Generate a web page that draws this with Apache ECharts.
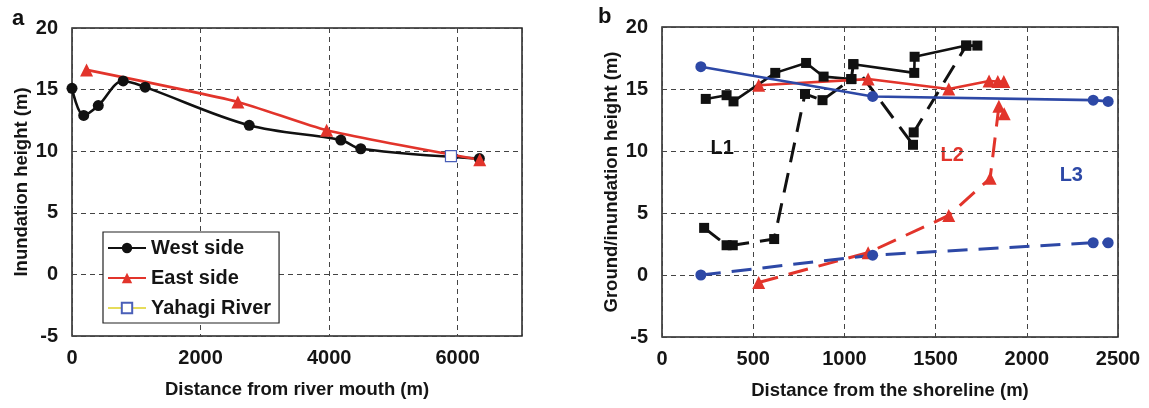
<!DOCTYPE html>
<html>
<head>
<meta charset="utf-8">
<script src="https://cdn.jsdelivr.net/npm/echarts@6.0.0/dist/echarts.min.js"></script>
<style>
html,body{margin:0;padding:0;background:#fff;}
#c{width:1149px;height:408px;}
</style>
</head>
<body>
<div id="c"></div>
<script>
// ---- Panel a data ----
const westSide = [[0,15.1],[182,12.9],[409,13.7],[796,15.7],[1138,15.2],[2757,12.1],[4182,10.9],[4492,10.2],[6337,9.4]];
const eastSide = [[227,16.6],[2580,14.0],[3961,11.7],[6343,9.3]];
const yahagiRiver = [[5895,9.6]];

// ---- Panel b data ----
const L1InundA = [[240,14.2],[354,14.5],[392,14.0],[621,16.3],[790,17.1],[886,16.0],[1038,15.8]];
const L1InundB = [[1049,17.0],[1383,16.3],[1385,17.6],[1668,18.5],[1729,18.5]];
const L1Ground = [[231,3.8],[354,2.4],[388,2.4],[615,2.9],[784,14.6],[880,14.1],[1038,15.8],[1049,17.0],[1376,10.5],[1380,11.5],[1668,18.5]];
const L2Inund = [[530,15.3],[1130,15.8],[1572,15.0],[1793,15.65],[1841,15.6],[1874,15.6]];
const L2Ground = [[530,-0.6],[1130,1.8],[1572,4.8],[1799,7.8],[1847,13.6],[1876,13.0]];
const L3Inund = [[213,16.8],[1155,14.4],[2364,14.1],[2446,14.0]];
const L3Ground = [[213,0.0],[1155,1.6],[2364,2.6],[2446,2.6]];
const lineLabels = [
  {text:'L1', at:[330,10.2], color:'#111'},
  {text:'L2', at:[1591,9.65], color:'#e2342b'},
  {text:'L3', at:[2244,8.0], color:'#2d48a6'}
];

const FONT = '"Liberation Sans", Arial, sans-serif';
const BLACK = '#111', RED = '#e2342b', BLUE = '#2d48a6';
const TXT = '#151515';

const chart = echarts.init(document.getElementById('c'), null, {renderer:'canvas'});

function xAxisCfg(grid, min, max, interval, name, showMax){
  return {
    gridIndex:grid, type:'value', min:min, max:max, interval:interval,
    name:name, nameLocation:'middle', nameGap:44,
    nameTextStyle:{fontFamily:FONT, fontWeight:'bold', fontSize:18.5, color:TXT},
    axisLine:{show:false}, axisTick:{show:false},
    axisLabel:{showMaxLabel:showMax, margin:12, fontFamily:FONT, fontWeight:'bold', fontSize:20, color:TXT,
      formatter:function(v){return String(v);}},
    splitLine:{show:true, lineStyle:{type:[5,4], color:'#444', width:1}}
  };
}
function yAxisCfg(grid, name, gap){
  return {
    gridIndex:grid, type:'value', min:-5, max:20, interval:5,
    name:name, nameLocation:'middle', nameGap:gap, nameRotate:90,
    nameTextStyle:{fontFamily:FONT, fontWeight:'bold', fontSize:18.5, color:TXT},
    axisLine:{show:false}, axisTick:{show:false},
    axisLabel:{margin:14, fontFamily:FONT, fontWeight:'bold', fontSize:20, color:TXT,
      formatter:function(v){return String(v);}},
    splitLine:{show:true, lineStyle:{type:[5,4], color:'#444', width:1}}
  };
}
function solid(name, data, color, symbol, size, xi, smooth){
  return {name:name, type:'line', xAxisIndex:xi, yAxisIndex:xi, data:data, smooth:smooth||false,
    symbol:symbol, symbolSize:size, showSymbol:true,
    lineStyle:{color:color, width:2.6}, itemStyle:{color:color}};
}
function dashed(name, data, color, symbol, size){
  return {name:name, type:'line', xAxisIndex:1, yAxisIndex:1, data:data,
    symbol:symbol, symbolSize:size,
    lineStyle:{color:color, width:3, type:[20,11]}, itemStyle:{color:color}};
}

const option = {
  animation:false,
  backgroundColor:'#fff',
  grid:[
    {left:72, right:627, top:28, bottom:72, show:true, borderColor:'#222', borderWidth:1.5, backgroundColor:'transparent'},
    {left:662, right:31, top:27, bottom:71, show:true, borderColor:'#222', borderWidth:1.5, backgroundColor:'transparent'}
  ],
  xAxis:[
    xAxisCfg(0, 0, 7000, 2000, 'Distance from river mouth (m)', false),
    xAxisCfg(1, 0, 2500, 500, 'Distance from the shoreline (m)', true)
  ],
  yAxis:[
    yAxisCfg(0, 'Inundation height (m)', 41),
    yAxisCfg(1, 'Ground/inundation height (m)', 40)
  ],
  legend:{
    show:true, orient:'vertical', left:103, top:232,
    data:['West side','East side','Yahagi River'],
    backgroundColor:'#fff', borderColor:'#222', borderWidth:1.2, borderRadius:0,
    padding:[6,8,5,4], itemGap:10, itemWidth:38, itemHeight:13,
    textStyle:{fontFamily:FONT, fontWeight:'bold', fontSize:20, color:TXT}
  },
  graphic:[
    {type:'text', left:12, top:8, style:{text:'a', fontFamily:FONT, fontWeight:'bold', fontSize:22, fill:'#111'}},
    {type:'text', left:598, top:6, style:{text:'b', fontFamily:FONT, fontWeight:'bold', fontSize:22, fill:'#111'}}
  ],
  series:[
    solid('West side', westSide, BLACK, 'circle', 11, 0, 0.35),
    solid('East side', eastSide, RED, 'triangle', 13, 0, 0.2),
    {name:'Yahagi River', type:'line', xAxisIndex:0, yAxisIndex:0, data:yahagiRiver,
      symbol:'rect', symbolSize:11, lineStyle:{color:'#e6dc5a', width:1},
      itemStyle:{color:'#fff', borderColor:'#4a5fb8', borderWidth:1.2}},
    dashed('L1 ground', L1Ground, BLACK, 'rect', 10),
    solid('L1 inundation', L1InundA, BLACK, 'rect', 10, 1),
    solid('L1 inundation b', L1InundB, BLACK, 'rect', 10, 1),
    dashed('L2 ground', L2Ground, RED, 'triangle', 13),
    solid('L2 inundation', L2Inund, RED, 'triangle', 13, 1),
    dashed('L3 ground', L3Ground, BLUE, 'circle', 11),
    solid('L3 inundation', L3Inund, BLUE, 'circle', 11, 1)
  ]
};
chart.setOption(option);

const extra = lineLabels.map(l => {
  const p = chart.convertToPixel({gridIndex:1}, l.at);
  return {type:'text', x:p[0], y:p[1], style:{text:l.text, fontFamily:FONT, fontWeight:'bold', fontSize:20, fill:l.color, align:'center', verticalAlign:'middle'}};
});
chart.setOption({graphic: option.graphic.concat(extra)});
</script>
</body>
</html>
